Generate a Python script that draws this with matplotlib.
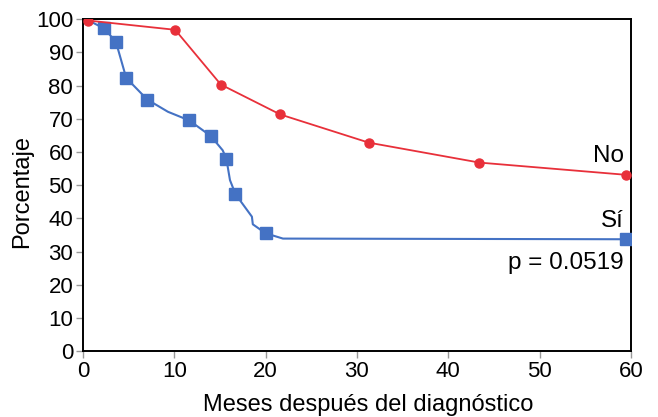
import matplotlib.pyplot as plt

# grupo "No"
no_x = [0.55, 10.1, 15.1, 21.6, 31.3, 43.4, 59.5]
no_y = [99.6, 96.8, 80.3, 71.3, 62.8, 56.8, 53.1]

# grupo "Sí": trazo de la curva y puntos marcados
si_x = [0.55, 2.33, 3.61, 4.74, 7.04, 9.31, 11.64, 14.0, 15.3, 15.7, 16.1,
        16.7, 18.5, 18.6, 20.0, 21.9, 59.5]
si_y = [99.7, 97.2, 93.2, 82.3, 75.8, 72.1, 69.5, 64.8, 60.5, 58.0, 51.5,
        47.3, 40.5, 38.2, 35.5, 33.9, 33.7]
si_marks = [1, 2, 3, 4, 6, 7, 9, 11, 14, 16]

xticks = [0, 10, 20, 30, 40, 50, 60]
yticks = [0, 10, 20, 30, 40, 50, 60, 70, 80, 90, 100]

plt.rcParams['font.family'] = ['Liberation Sans', 'DejaVu Sans']

fig = plt.figure(figsize=(6.58, 4.17), dpi=100)
ax = fig.add_axes([0.126, 0.158, 0.833, 0.796])

ax.plot(si_x, si_y, color='#4472C4', lw=1.5, marker='s', ms=8,
        markevery=si_marks, zorder=3)
ax.plot(no_x, no_y, color='#E8303A', lw=1.3, marker='o', ms=6.5, zorder=4)

ax.text(59.2, 58.7, 'No', ha='right', va='center', fontsize=17.5)
ax.text(59.2, 39.2, 'Sí', ha='right', va='center', fontsize=17.5)
ax.text(59.2, 26.5, 'p = 0.0519', ha='right', va='center', fontsize=17.5)

ax.set_xlim(0, 60)
ax.set_ylim(0, 100)
ax.set_xticks(xticks)
ax.set_yticks(yticks)
ax.tick_params(labelsize=16, length=5, width=1, color='#999999', pad=2)
for s in ax.spines.values():
    s.set_linewidth(1.4)
    s.set_color('black')

ax.set_xlabel('Meses después del diagnóstico', fontsize=17)
ax.set_ylabel('Porcentaje', fontsize=17)
ax.xaxis.set_label_coords(0.52, -0.13, transform=ax.transAxes)
ax.yaxis.set_label_coords(-0.09, 0.482, transform=ax.transAxes)

fig.savefig('out.png', dpi=100)
